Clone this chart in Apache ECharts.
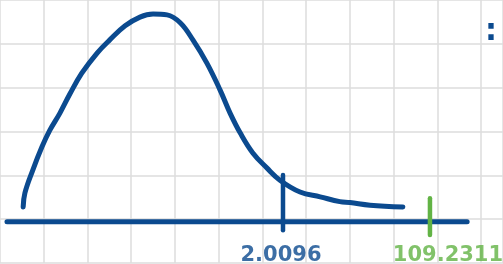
<!DOCTYPE html>
<html>
<head>
<meta charset="utf-8">
<script src="https://cdn.jsdelivr.net/npm/echarts@6/dist/echarts.min.js"></script>
<style>
  html, body { margin: 0; padding: 0; background: #fff; }
  #chart { width: 503px; height: 264px; }
</style>
</head>
<body>
<div id="chart"></div>
<script>
// everything is in grid-square units (one square of the paper = 1)
var curveX = [0.53, 0.57, 0.75, 0.96, 1.14, 1.37, 1.60, 1.87, 2.22, 2.51, 2.86, 3.20, 3.50, 3.82, 4.12, 4.41, 4.73, 5.03, 5.26, 5.49, 5.78, 6.10, 6.40, 6.86, 7.32, 7.77, 8.00, 8.46, 9.21];
var curveY = [1.28, 1.60, 2.12, 2.65, 3.03, 3.42, 3.86, 4.33, 4.79, 5.09, 5.41, 5.61, 5.68, 5.66, 5.48, 5.09, 4.56, 3.95, 3.42, 2.97, 2.51, 2.17, 1.89, 1.62, 1.51, 1.40, 1.38, 1.32, 1.28];

var baseX = [0.16, 10.68];
var baseY = 0.94;

var tickLabels = ['2.0096', '109.2311'];
var tickX = [6.47, 9.83];
var tickTop = [2.01, 1.48];
var tickBottom = [0.75, 0.64];
var labelY = 0.18;
var tickColors = ['#0b4a8f', '#62b345'];

var blue = '#0b4a8f';

function pairs(xs, ys) {
    var out = [];
    for (var i = 0; i < xs.length; i++) out.push([xs[i], ys[i]]);
    return out;
}

var chart = echarts.init(document.getElementById('chart'));

var series = [
    {
        type: 'line',
        data: pairs(curveX, curveY),
        smooth: 0.4,
        symbol: 'none',
        lineStyle: { color: blue, width: 5, cap: 'round', join: 'round' },
        z: 3
    },
    {
        type: 'line',
        data: [[baseX[0], baseY], [baseX[1], baseY]],
        symbol: 'none',
        lineStyle: { color: blue, width: 5, cap: 'round' },
        z: 2
    }
];

// the two marks on the line, with their labels underneath
tickX.forEach(function (x, i) {
    series.push({
        type: 'line',
        data: [[x, tickTop[i]], [x, tickBottom[i]]],
        symbol: 'none',
        lineStyle: { color: tickColors[i], width: 4.5, cap: 'round' },
        z: 4
    });
    series.push({
        type: 'scatter',
        data: [[x, labelY]],
        symbolSize: 0,
        silent: true,
        label: {
            show: true,
            formatter: tickLabels[i],
            position: 'inside',
            offset: i === 0 ? [-2, 0] : [18, 0],
            color: tickColors[i],
            fontFamily: 'DejaVu Sans',
            fontWeight: 'bold',
            fontSize: 21
        },
        z: 5
    });
});

var option = {
    animation: false,
    backgroundColor: '#ffffff',
    grid: { left: 0, right: 0, top: 0, bottom: 1 },
    xAxis: {
        type: 'value',
        min: 0,
        max: 11.5,
        interval: 1,
        axisLine: { show: false },
        axisTick: { show: false },
        axisLabel: { show: false },
        splitLine: { lineStyle: { color: '#dddddd', width: 1.5 } }
    },
    yAxis: {
        type: 'value',
        min: 0,
        max: 6,
        interval: 1,
        axisLine: { show: false },
        axisTick: { show: false },
        axisLabel: { show: false },
        splitLine: { lineStyle: { color: '#dddddd', width: 1.5 } }
    },
    graphic: [{
        type: 'text',
        left: 485,
        top: 17,
        style: { text: ':', fill: blue, font: 'bold 30px "DejaVu Sans"' }
    }],
    series: series
};

chart.setOption(option);
</script>
</body>
</html>
